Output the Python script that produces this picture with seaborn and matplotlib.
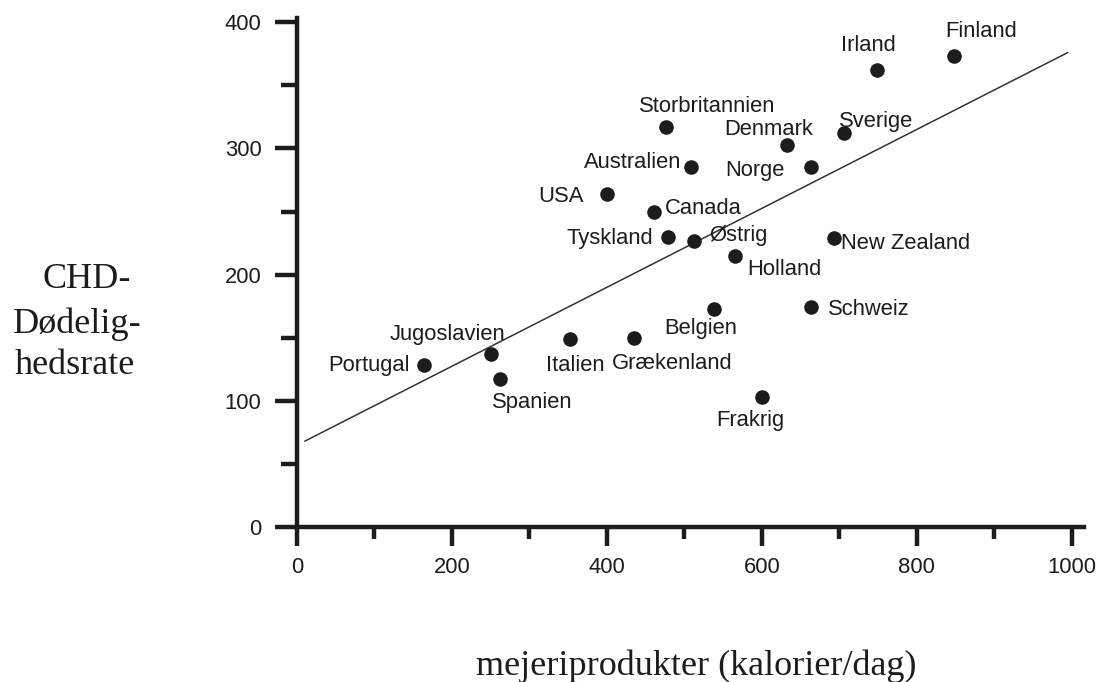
import matplotlib
matplotlib.use('Agg')

import pandas as pd
import matplotlib.pyplot as plt
import seaborn as sns
from matplotlib.ticker import MultipleLocator

# --- data ---
countries = ["Portugal", "Jugoslavien", "Spanien", "Italien", "Grækenland",
             "Belgien", "Frakrig", "Schweiz", "Irland", "Finland", "Sverige",
             "Denmark", "Norge", "New Zealand", "Holland", "Østrig", "Canada",
             "Storbritannien", "Australien", "USA", "Tyskland"]
dairy = [164, 251, 262, 352, 435, 538, 600, 663, 749, 848, 706,
         633, 663, 693, 566, 512, 461, 477, 508, 400, 479]
chd = [128, 137, 117, 149, 150, 172.5, 103, 174, 362, 373, 312,
       303, 285, 229, 215, 227, 250, 317, 285, 264, 230]

# regression line end points
line_x = [10, 995]
line_y = [68, 376]

x_ticks = [0, 200, 400, 600, 800, 1000]
y_ticks = [0, 100, 200, 300, 400]

# label placement: (ha, dx px, dy px) relative to the dot, baseline anchored
label_pos = {
    "Portugal": ("right", -14, -6),
    "Jugoslavien": ("center", -44, 14),
    "Spanien": ("left", -8, -29),
    "Italien": ("center", 6, -32),
    "Grækenland": ("center", 38, -31),
    "Belgien": ("center", -13, -25),
    "Frakrig": ("center", -11, -29),
    "Schweiz": ("left", 17, -8),
    "Irland": ("center", -9, 19),
    "Finland": ("center", 27, 19),
    "Sverige": ("left", -5, 6),
    "Denmark": ("center", -19, 10),
    "Norge": ("right", -26, -9),
    "New Zealand": ("left", 7, -11),
    "Holland": ("left", 12, -19),
    "Østrig": ("left", 16, 0),
    "Canada": ("left", 11, -2),
    "Storbritannien": ("center", 41, 15),
    "Australien": ("right", -9, -1),
    "USA": ("right", -23, -8),
    "Tyskland": ("right", -15, -7),
}

df = pd.DataFrame({"land": countries, "mejeri": dairy, "chd": chd})

sns.set_style("ticks")
plt.rcParams['font.family'] = ['Liberation Sans', 'DejaVu Sans']

ink = "#1c1c1c"
fig = plt.figure(figsize=(11.04, 6.82), dpi=100)
ax = fig.add_axes([297 / 1104, 155 / 682, (1084 - 297) / 1104, (527 - 18) / 682])

sns.lineplot(x=line_x, y=line_y, ax=ax, color="#333333", linewidth=1.1)
sns.scatterplot(data=df, x="mejeri", y="chd", ax=ax, color=ink, s=110,
                linewidth=0, zorder=3)

for name, xv, yv in zip(countries, dairy, chd):
    ha, dx, dy = label_pos[name]
    ax.annotate(name, (xv, yv), xytext=(dx, dy), textcoords="offset pixels",
                ha=ha, va="baseline", fontsize=15.8, color=ink)

ax.set_xlim(0, 1016)
ax.set_ylim(0, 403.4)
ax.set_xticks(x_ticks)
ax.set_yticks(y_ticks)
ax.xaxis.set_minor_locator(MultipleLocator(100))
ax.yaxis.set_minor_locator(MultipleLocator(50))

for side in ["top", "right"]:
    ax.spines[side].set_visible(False)
for side in ["left", "bottom"]:
    ax.spines[side].set_linewidth(3.2)
    ax.spines[side].set_color(ink)

ax.tick_params(axis="y", which="major", direction="out", length=15.5, width=3.2,
               color=ink, pad=10, labelsize=15.8, labelcolor=ink)
ax.tick_params(axis="y", which="minor", direction="out", length=11.5, width=3.2,
               color=ink)
ax.tick_params(axis="x", which="major", direction="out", length=13.5, width=3.2,
               color=ink, pad=8, labelsize=15.8, labelcolor=ink)
ax.tick_params(axis="x", which="minor", direction="out", length=8.5, width=3.2,
               color=ink)
ax.set_xlabel("")
ax.set_ylabel("")

# axis titles in a serif face, placed as in the reference
serif = ['Liberation Serif', 'DejaVu Serif']
fig.text(696 / 1104, 1 - 675 / 682, "mejeriprodukter (kalorier/dag)",
         ha="center", va="baseline", fontsize=26, family=serif, color=ink)
for txt, left, base in [("CHD-", 43, 288), ("Dødelig-", 13, 333), ("hedsrate", 15, 374)]:
    fig.text(left / 1104, 1 - base / 682, txt, ha="left", va="baseline",
             fontsize=26, family=serif, color=ink)

fig.savefig("out.png", dpi=100, facecolor="white")
